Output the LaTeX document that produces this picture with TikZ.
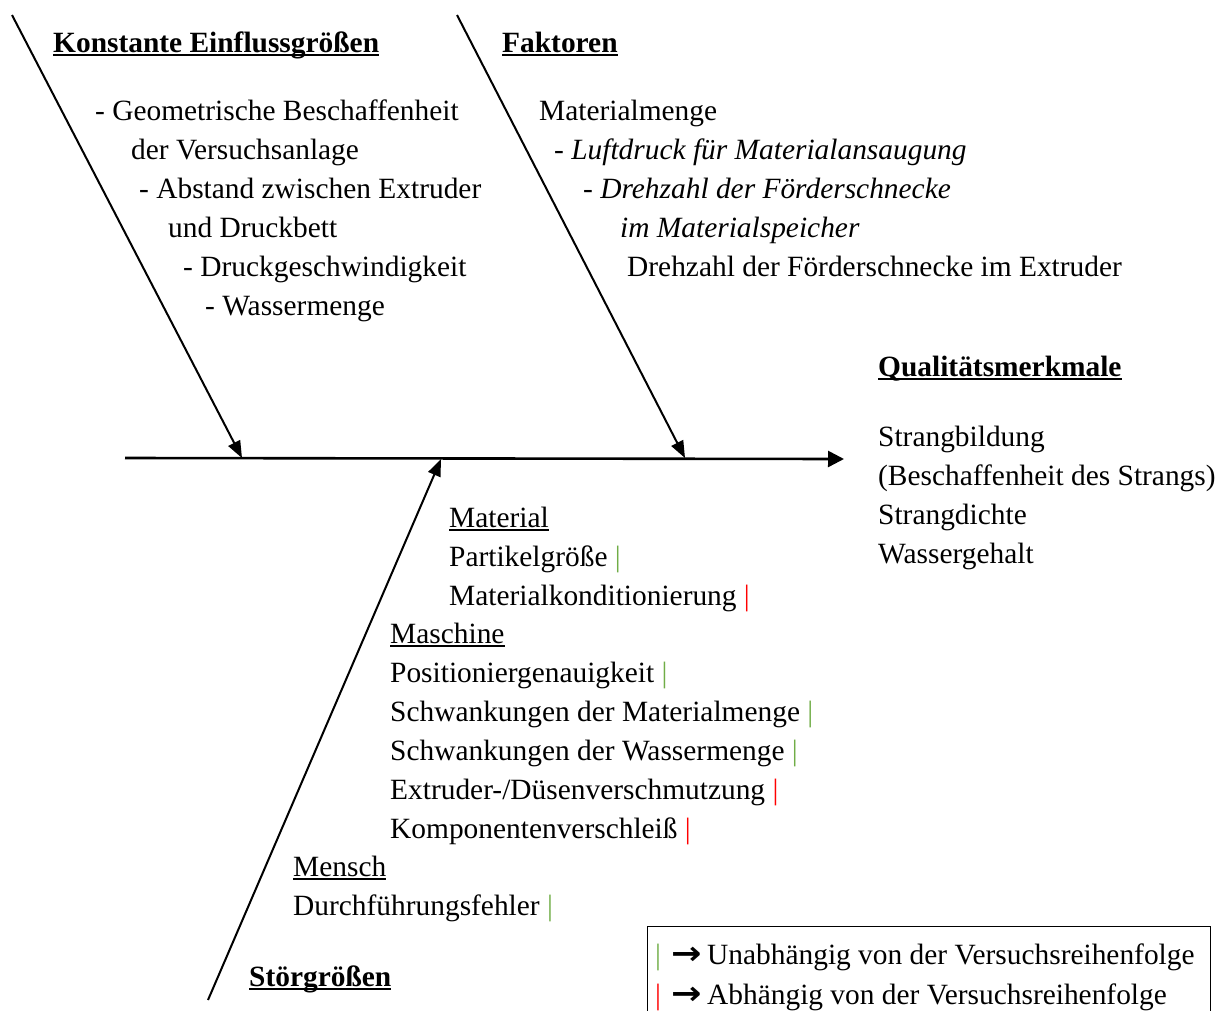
\documentclass[tikz,border=0pt]{standalone}
\usepackage{fontspec}
\setmainfont{Liberation Serif}
\newfontfamily\symfont{DejaVu Sans}
\usetikzlibrary{arrows.meta}
\definecolor{okgreen}{RGB}{112,173,71}
\definecolor{badred}{RGB}{255,0,0}
% underline at a fixed depth below the baseline
\newcommand\uln[1]{\setbox0\hbox{#1}\rlap{\rule[-4pt]{\wd0}{1.8pt}}\box0}
\newcommand\gbar{{\color{okgreen}|}}
\newcommand\rbar{{\color{badred}|}}
\newcommand\arr{{\symfont\fontsize{28}{39}\selectfont\scalebox{1.3}[1.15]{\textbf{→}}}}

\begin{document}
\begin{tikzpicture}[x=1pt,y=-1pt,
  txt/.style={anchor=base west,inner sep=0pt,font=\fontsize{29.4}{39}\selectfont},
  head/.style={txt,font=\fontsize{29.4}{39}\selectfont\bfseries},
  bone/.style={line width=2pt,-{Triangle[length=17pt,width=13pt]}},
  spine/.style={line width=2.6pt,-{Triangle[length=16pt,width=16pt]}}]
\useasboundingbox (0,0) rectangle (1227,1010);

% fish bones
\coordinate (tail) at (125,458);
\coordinate (head) at (844,459);
\coordinate (lt) at (12,15);
\coordinate (lj) at (242,458);
\coordinate (rt) at (457,15);
\coordinate (rj) at (685,458);
\coordinate (bt) at (208,1000);
\coordinate (bj) at (441,459);
\draw[spine] (tail) -- (head);
\draw[bone] (lt) -- (lj);
\draw[bone] (rt) -- (rj);
\draw[bone] (bt) -- (bj);

% constant influences
\node[head] (kh) at (53,52) {\uln{Konstante Einflussgrößen}};
\node[txt] (k1) at (95,120) {- Geometrische Beschaffenheit};
\node[txt] (k2) at (131,159) {der Versuchsanlage};
\node[txt] (k3) at (139,198) {- Abstand zwischen Extruder};
\node[txt] (k4) at (168,237) {und Druckbett};
\node[txt] (k5) at (183,276) {- Druckgeschwindigkeit};
\node[txt] (k6) at (205,315) {- Wassermenge};

% factors
\node[head] (fh) at (502,52) {\uln{Faktoren}};
\node[txt] (f1) at (539,120) {Materialmenge};
\node[txt] (f2) at (554,159) {\itshape - Luftdruck für Materialansaugung};
\node[txt] (f3) at (583,198) {\itshape - Drehzahl der Förderschnecke};
\node[txt] (f4) at (620,237) {\itshape im Materialspeicher};
\node[txt] (f5) at (627,276) {Drehzahl der Förderschnecke im Extruder};

% quality characteristics
\node[head] (qh) at (878,376) {\uln{Qualitätsmerkmale}};
\node[txt] (q1) at (878,446) {Strangbildung};
\node[txt] (q2) at (878,485) {(Beschaffenheit des Strangs)};
\node[txt] (q3) at (878,524) {Strangdichte};
\node[txt] (q4) at (878,563) {Wassergehalt};

% disturbances
\node[txt] (m0) at (449,527) {\uln{Material}};
\node[txt] (m1) at (449,566) {Partikelgröße \gbar};
\node[txt] (m2) at (449,605) {Materialkonditionierung \rbar};
\node[txt] (a0) at (390,643) {\uln{Maschine}};
\node[txt] (a1) at (390,682) {Positioniergenauigkeit \gbar};
\node[txt] (a2) at (390,721) {Schwankungen der Materialmenge \gbar};
\node[txt] (a3) at (390,760) {Schwankungen der Wassermenge \gbar};
\node[txt] (a4) at (390,799) {Extruder-/Düsenverschmutzung \rbar};
\node[txt] (a5) at (390,838) {Komponentenverschleiß \rbar};
\node[txt] (p0) at (293,876) {\uln{Mensch}};
\node[txt] (p1) at (293,915) {Durchführungsfehler \gbar};
\node[head] (sh) at (249,986) {\uln{Störgrößen}};

% legend
\draw[line width=1pt] (647,1012) |- (1210,926) -- (1210,1012);
\node[txt] (l1) at (655,964) {\makebox[16pt][l]{\gbar}\makebox[36pt][l]{\arr}Unabhängig von der Versuchsreihenfolge};
\node[txt] (l2) at (655,1004) {\makebox[16pt][l]{\rbar}\makebox[36pt][l]{\arr}Abhängig von der Versuchsreihenfolge};
\end{tikzpicture}
\end{document}
